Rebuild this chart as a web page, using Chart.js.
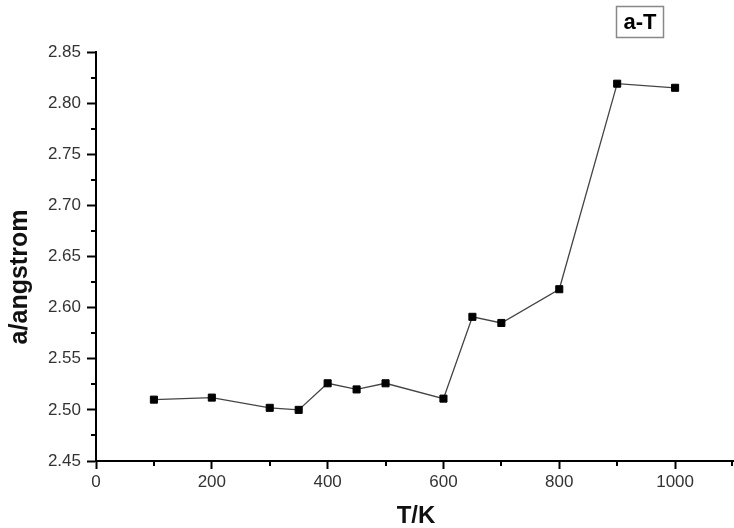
<!DOCTYPE html>
<html>
<head>
<meta charset="utf-8">
<script src="https://cdn.jsdelivr.net/npm/chart.js@4.4.1/dist/chart.umd.min.js"></script>
<style>
  html, body { margin: 0; padding: 0; background: #fff; }
  #wrap { width: 734px; height: 528px; position: relative; }
</style>
</head>
<body>
<div id="wrap"><canvas id="grafico"></canvas></div>
<script>
// temperatura (K) e parâmetro de rede a (angstrom)
const temperaturas = [100, 200, 300, 350, 400, 450, 500, 600, 650, 700, 800, 900, 1000];
const parametroA = [2.510, 2.512, 2.502, 2.500, 2.526, 2.520, 2.526, 2.511, 2.591, 2.585, 2.618, 2.819, 2.815];

const ticksX = [0, 200, 400, 600, 800, 1000];
const ticksXMenores = [100, 300, 500, 700, 900, 1100];
const ticksY = [2.45, 2.50, 2.55, 2.60, 2.65, 2.70, 2.75, 2.80, 2.85];
const ticksYMenores = [2.475, 2.525, 2.575, 2.625, 2.675, 2.725, 2.775, 2.825];

const tituloX = 'T/K';
const tituloY = 'a/angstrom';
const legendaCaixa = 'a-T';

const fonteTicks = { family: '"Liberation Sans", Arial, sans-serif', size: 17 };

// desenha ticks menores, títulos dos eixos e a caixinha "a-T"
const extras = {
    id: 'extras',
    afterDraw(chart) {
        const ctx = chart.ctx;
        const sx = chart.scales.x, sy = chart.scales.y;
        ctx.save();
        ctx.strokeStyle = '#000';
        ctx.lineWidth = 2;
        ctx.beginPath();
        ticksXMenores.forEach(v => {
            const px = Math.min(Math.round(sx.getPixelForValue(v)), sx.right - 1);
            ctx.moveTo(px, sx.top);
            ctx.lineTo(px, sx.top + 5);
        });
        ticksYMenores.forEach(v => {
            const py = Math.round(sy.getPixelForValue(v));
            ctx.moveTo(sy.right, py);
            ctx.lineTo(sy.right - 5, py);
        });
        ctx.stroke();

        ctx.fillStyle = '#111';
        ctx.font = 'bold 24px "Liberation Sans", Arial, sans-serif';
        ctx.textAlign = 'center';
        ctx.textBaseline = 'alphabetic';
        ctx.fillText(tituloX, 416, 523);

        ctx.save();
        ctx.translate(20, 277);
        ctx.rotate(-Math.PI / 2);
        ctx.textBaseline = 'middle';
        ctx.font = 'bold 25px "Liberation Sans", Arial, sans-serif';
        ctx.fillText(tituloY, 0, 0);
        ctx.restore();

        ctx.strokeStyle = '#888';
        ctx.lineWidth = 1.5;
        ctx.strokeRect(616.5, 6.5, 47, 31);
        ctx.font = 'bold 22px "Liberation Sans", Arial, sans-serif';
        ctx.textBaseline = 'middle';
        ctx.fillStyle = '#000';
        ctx.fillText(legendaCaixa, 640, 23);
        ctx.restore();
    }
};

new Chart(document.getElementById('grafico').getContext('2d'), {
    type: 'scatter',
    data: {
        datasets: [{
            label: 'a-T',
            data: temperaturas.map((t, i) => ({ x: t, y: parametroA[i] })),
            showLine: true,
            borderColor: '#444',
            borderWidth: 1.3,
            pointStyle: 'rect',
            pointRadius: 5,
            pointBorderWidth: 1,
            pointBackgroundColor: '#000',
            pointBorderColor: '#000',
            clip: false
        }]
    },
    options: {
        responsive: true,
        maintainAspectRatio: false,
        animation: false,
        layout: { autoPadding: false, padding: { top: 52, right: 1, left: 0, bottom: 0 } },
        plugins: { legend: { display: false }, tooltip: { enabled: false } },
        scales: {
            x: {
                type: 'linear',
                min: 0,
                max: 1100,
                afterBuildTicks: s => { s.ticks = ticksX.map(v => ({ value: v })); },
                afterFit: s => { s.height = 67; },
                border: { display: true, color: '#000', width: 2 },
                grid: { drawOnChartArea: false, drawTicks: true, tickLength: 8, tickWidth: 2, tickColor: '#000' },
                ticks: { font: fonteTicks, color: '#333', padding: 3, maxRotation: 0, callback: v => String(v) }
            },
            y: {
                type: 'linear',
                min: 2.45,
                max: 2.85,
                afterBuildTicks: s => { s.ticks = ticksY.map(v => ({ value: v })); },
                afterFit: s => { s.width = 96; },
                border: { display: true, color: '#000', width: 2 },
                grid: { drawOnChartArea: false, drawTicks: true, tickLength: 9, tickWidth: 2, tickColor: '#000' },
                ticks: { font: fonteTicks, color: '#333', padding: 6, callback: v => v.toFixed(2) }
            }
        }
    },
    plugins: [extras]
});
</script>
</body>
</html>
